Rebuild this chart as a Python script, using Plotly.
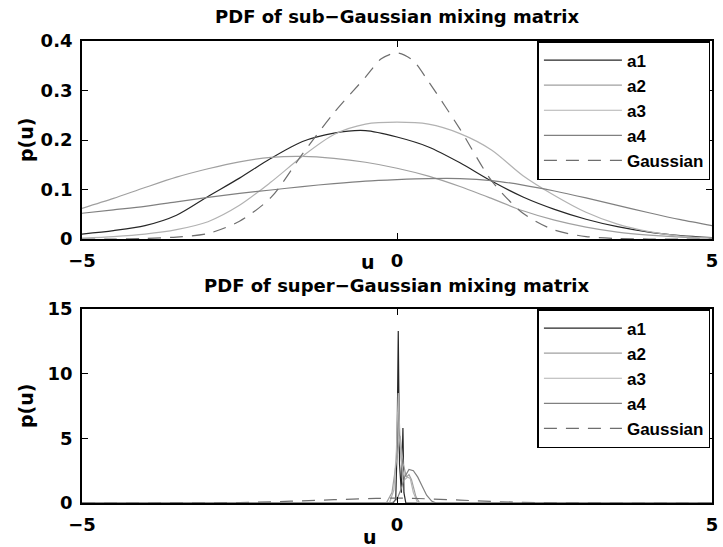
import plotly.graph_objects as go

# ---------------- data: top panel (sub-Gaussian) ----------------
u_top = [-5, -4.5, -4, -3.5, -3, -2.5, -2, -1.5, -1, -0.5, 0,
         0.5, 1, 1.5, 2, 2.5, 3, 3.5, 4, 4.5, 5]
a1_top = [0.010, 0.017, 0.027, 0.048, 0.086, 0.123, 0.163, 0.197, 0.214, 0.219, 0.206,
          0.186, 0.154, 0.117, 0.085, 0.060, 0.040, 0.025, 0.014, 0.007, 0.003]
a2_top = [0.062, 0.082, 0.104, 0.125, 0.142, 0.156, 0.165, 0.167, 0.163, 0.155, 0.143,
          0.127, 0.106, 0.082, 0.057, 0.038, 0.024, 0.014, 0.008, 0.004, 0.002]
a3_top = [0.002, 0.005, 0.010, 0.019, 0.035, 0.068, 0.115, 0.167, 0.211, 0.232, 0.236,
          0.232, 0.213, 0.180, 0.128, 0.088, 0.054, 0.030, 0.015, 0.006, 0.002]
a4_top = [0.052, 0.059, 0.066, 0.075, 0.084, 0.092, 0.099, 0.106, 0.112, 0.117, 0.120,
          0.122, 0.122, 0.118, 0.109, 0.097, 0.083, 0.068, 0.053, 0.039, 0.027]
gauss_u = [-5, -4.5, -4, -3.5, -3, -2.5, -2, -1.5, -1, -0.5, -0.25, 0,
           0.25, 0.5, 1, 1.5, 2, 2.5, 3, 3.5, 4, 4.5, 5]
gauss_p = [0.000, 0.000, 0.001, 0.004, 0.011, 0.036, 0.084, 0.172, 0.255, 0.327, 0.364, 0.376,
           0.361, 0.318, 0.222, 0.118, 0.052, 0.018, 0.005, 0.001, 0.000, 0.000, 0.000]

# ---------------- data: bottom panel (super-Gaussian) ----------------
a1_bot_u = [-5, -0.06, -0.02, 0.0, 0.02, 0.04, 0.07, 0.094, 0.11, 0.14, 5]
a1_bot_p = [0, 0, 0.3, 4.0, 13.3, 3.0, 0.8, 5.8, 0.8, 0, 0]
a2_bot_u = [-5, -0.17, -0.08, 0.0, 0.05, 0.10, 0.15, 0.19, 0.23, 0.30, 0.36, 5]
a2_bot_p = [0, 0, 0.8, 3.5, 5.2, 3.0, 2.0, 2.2, 1.8, 0.5, 0, 0]
a3_bot_u = [-5, -0.12, -0.05, -0.01, 0.02, 0.06, 0.12, 0.17, 0.21, 0.26, 0.33, 5]
a3_bot_p = [0, 0, 1.0, 4.0, 8.5, 3.5, 1.8, 2.0, 1.9, 0.8, 0, 0]
a4_bot_u = [-5, -0.08, 0.0, 0.06, 0.12, 0.19, 0.26, 0.33, 0.40, 0.47, 0.55, 0.62, 5]
a4_bot_p = [0, 0, 0.3, 1.0, 2.0, 2.6, 2.5, 2.0, 1.3, 0.6, 0.15, 0, 0]

names = ["a1", "a2", "a3", "a4", "Gaussian"]
x_ticks = [-5, 0, 5]
x_ticktext = ["\u22125", "0", "5"]
y_top_ticks = [0, 0.1, 0.2, 0.3, 0.4]
y_top_ticktext = ["0", "0.1", "0.2", "0.3", "0.4"]
y_bot_ticks = [0, 5, 10, 15]
y_bot_ticktext = ["0", "5", "10", "15"]

colors = ["#262626", "#a0a0a0", "#b2b2b2", "#808080", "#6e6e6e"]
dashes = ["solid", "solid", "solid", "solid", "13px,9px"]

fig = go.Figure()

top_series = [(u_top, a1_top), (u_top, a2_top), (u_top, a3_top), (u_top, a4_top), (gauss_u, gauss_p)]
for name, (uu, vals), c, d in zip(names, top_series, colors, dashes):
    fig.add_trace(go.Scatter(x=uu, y=vals, mode="lines", name=name,
                             line=dict(color=c, width=1.2, dash=d, shape="spline", smoothing=0.8),
                             xaxis="x", yaxis="y", legend="legend"))

bot_series = [(a1_bot_u, a1_bot_p), (a2_bot_u, a2_bot_p), (a3_bot_u, a3_bot_p),
              (a4_bot_u, a4_bot_p), (gauss_u, gauss_p)]
for name, (uu, vals), c, d in zip(names, bot_series, colors, dashes):
    fig.add_trace(go.Scatter(x=uu, y=vals, mode="lines", name=name,
                             line=dict(color=c, width=1.2, dash=d,
                                       shape="spline" if name == "Gaussian" else "linear"),
                             xaxis="x2", yaxis="y2", legend="legend2"))

tickfont = dict(family="DejaVu Sans", size=18, color="black", weight="bold")
common = dict(showline=True, linecolor="black", linewidth=1.8, mirror="ticks",
              ticks="inside", ticklen=6, tickwidth=1, tickcolor="black",
              showgrid=False, zeroline=False, tickfont=tickfont)

legend_common = dict(x=0.9975, xanchor="right", yanchor="top", bgcolor="white",
                     bordercolor="black", borderwidth=1.5, itemwidth=78,
                     font=dict(family="Liberation Sans", size=17, color="black", weight="bold"),
                     tracegroupgap=0)

TOP_DOM = [0.5714, 1.0]
BOT_DOM = [0.0, 0.4199]

fig.update_layout(
    width=723, height=547,
    margin=dict(l=82, r=5, t=41, b=44),
    plot_bgcolor="white", paper_bgcolor="white",
    showlegend=True,
    xaxis=dict(domain=[0, 1], anchor="y", range=[-5, 5], tickvals=x_ticks,
               ticktext=x_ticktext, ticklabelstandoff=4, **common),
    yaxis=dict(domain=TOP_DOM, anchor="x", range=[0, 0.4], tickvals=y_top_ticks,
               ticktext=y_top_ticktext, ticklabelstandoff=4, **common),
    xaxis2=dict(domain=[0, 1], anchor="y2", range=[-5, 5], tickvals=x_ticks,
                ticktext=x_ticktext, ticklabelstandoff=4, **common),
    yaxis2=dict(domain=BOT_DOM, anchor="x2", range=[0, 15], tickvals=y_bot_ticks,
                ticktext=y_bot_ticktext, ticklabelstandoff=4, **common),
    legend=dict(y=TOP_DOM[1], **legend_common),
    legend2=dict(y=BOT_DOM[1], **legend_common),
)

title_font = dict(family="DejaVu Sans", size=18, color="black", weight="bold")
label_font = dict(family="DejaVu Sans", size=19, color="black", weight="bold")
H = 547 - 41 - 44

def py(Y):
    return (503 - Y) / H

annos = [
    dict(text="PDF of sub\u2212Gaussian mixing matrix", x=0.5, y=py(17), font=title_font),
    dict(text="PDF of super\u2212Gaussian mixing matrix", x=0.5, y=py(285), font=title_font),
    dict(text="u", x=(371 - 82) / 636, y=py(262), font=label_font),
    dict(text="u", x=(373 - 82) / 636, y=py(537), font=label_font),
    dict(text="p(u)", x=0, xshift=-56, y=(TOP_DOM[0] + TOP_DOM[1]) / 2, textangle=-90, font=label_font),
    dict(text="p(u)", x=0, xshift=-56, y=(BOT_DOM[0] + BOT_DOM[1]) / 2, textangle=-90, font=label_font),
]
for a in annos:
    fig.add_annotation(xref="paper", yref="paper", showarrow=False,
                       xanchor="center", yanchor="middle", **a)

fig.write_html("out.html")
